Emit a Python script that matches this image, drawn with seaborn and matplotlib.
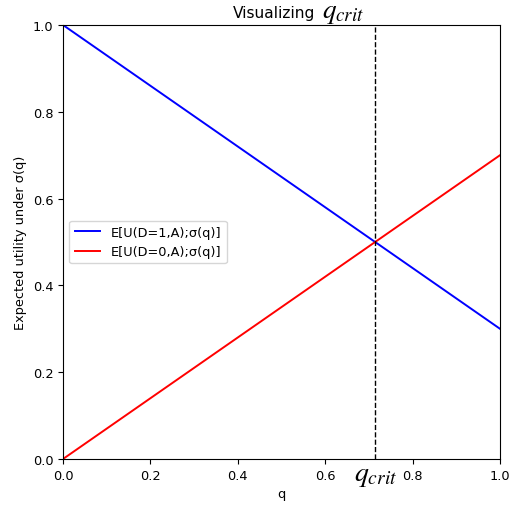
import numpy as np
import pandas as pd
import seaborn as sns
import matplotlib
matplotlib.use("Agg")
import matplotlib.pyplot as plt

plt.rcParams["font.size"] = 9.3
plt.rcParams["mathtext.fontset"] = "stix"

q = [0.0, 1.0]
u_d1 = [1.0, 0.3]
u_d0 = [0.0, 0.7]
labels = ["E[U(D=1,A);σ(q)]", "E[U(D=0,A);σ(q)]"]
colors = ["blue", "red"]
q_crit = 5 / 7

df = pd.DataFrame({
    "q": q * 2,
    "u": u_d1 + u_d0,
    "series": [labels[0]] * 2 + [labels[1]] * 2,
})

W, H = 518, 506
fig = plt.figure(figsize=(W / 100, H / 100), dpi=100)
ax = fig.add_axes([63 / W, 46 / H, 437 / W, 434 / H])
sns.lineplot(data=df, x="q", y="u", hue="series", palette=colors, ax=ax,
             linewidth=1.4)
ax.axvline(q_crit, color="black", linestyle="--", linewidth=1)
ax.set_xlim(0, 1)
ax.set_ylim(0, 1)
ax.tick_params(labelsize=9.3)
ax.set_xlabel("q", fontsize=9.3)
ax.set_ylabel("Expected utility under σ(q)", fontsize=9.3)
ax.legend(loc="center left", title=None, fontsize=9.3)

# title: plain text plus larger math part
fig.text(233 / W, 1 - 18 / H, "Visualizing", fontsize=11.1,
         ha="left", va="baseline")
fig.text(322 / W, 1 - 18 / H, r"$q_{crit}$", fontsize=19.5,
         ha="left", va="baseline")

ax.text(q_crit, -0.035, r"$q_{crit}$", fontsize=20, ha="center", va="center",
        transform=ax.transData, clip_on=False)
fig.savefig("out.png", dpi=100)
